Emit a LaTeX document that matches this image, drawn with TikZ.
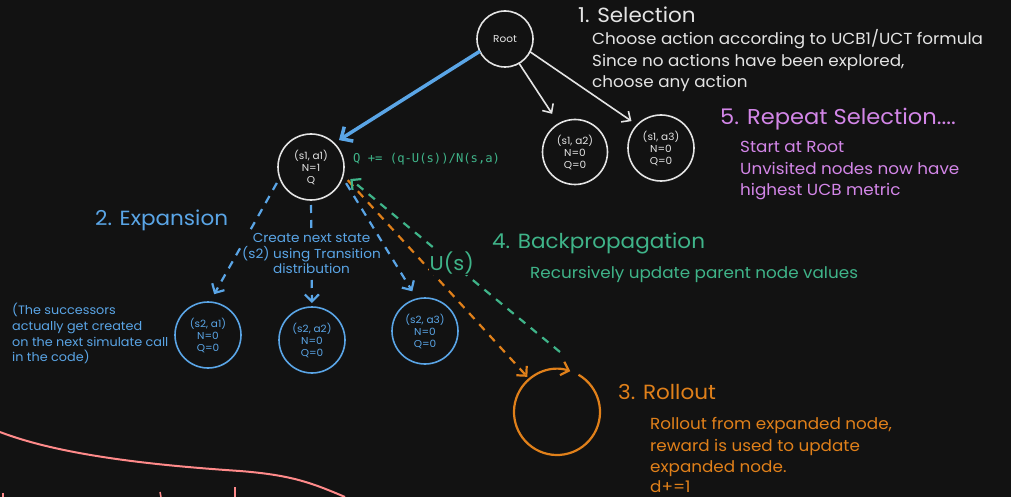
\documentclass[tikz,border=0pt]{standalone}
\usepackage{fontspec}
\setmainfont{Poppins}
\newfontfamily\hand[FakeStretch=1.05]{Poppins}
\newfontfamily\mono{DejaVu Sans Mono}
\usetikzlibrary{arrows.meta}
\definecolor{bg}{HTML}{121212}
\definecolor{wht}{HTML}{E4E4E4}
\definecolor{blu}{HTML}{5AA5E6}
\definecolor{orng}{HTML}{E0801A}
\definecolor{grn}{HTML}{3FB489}
\definecolor{prp}{HTML}{D386E8}
\definecolor{pnk}{HTML}{FF8A8A}
\tikzset{
  state/.style={circle, draw, line width=1.6pt, minimum size=66pt, inner sep=0pt, outer sep=0pt, align=center,
    font=\hand\fontsize{10}{12}\selectfont},
  title/.style={anchor=base west, inner sep=0pt, font=\hand\fontsize{20.5}{24}\selectfont},
  body/.style={anchor=base west, inner sep=0pt, font=\hand\fontsize{16}{21}\selectfont},
  note/.style={anchor=base west, inner sep=0pt, font=\hand\fontsize{12.2}{16}\selectfont},
  wtip/.style={-{Straight Barb[length=7pt,width=13pt]}},
  dtip/.style={-{Straight Barb[length=7pt,width=14pt]}},
  dash line/.style={line width=2.2pt, dash pattern=on 8pt off 7pt},
}
\begin{document}
\begin{tikzpicture}[x=1pt,y=1pt]
\fill[bg] (0,0) rectangle (1011,-497);
\useasboundingbox (0,0) rectangle (1011,-497);

% tree nodes
\node[state, draw=wht, text=wht, minimum size=56pt] (root) at (505,-39) {Root};
\node[state, draw=wht, text=wht] (s11) at (311,-167) {(s1, a1)\\N=1\\Q};
\node[state, draw=wht, text=wht, minimum size=65pt] (s12) at (575,-152) {(s1, a2)\\N=0\\Q=0};
\node[state, draw=wht, text=wht] (s13) at (661,-148) {(s1, a3)\\N=0\\Q=0};
\node[state, draw=blu, text=blu] (s21) at (208,-335) {(s2, a1)\\N=0\\Q=0};
\node[state, draw=blu, text=blu] (s22) at (312,-340) {(s2, a2)\\N=0\\Q=0};
\node[state, draw=blu, text=blu] (s23) at (425,-331) {(s2, a3)\\N=0\\Q=0};
\node[circle, minimum size=86pt, inner sep=0pt, outer sep=0pt] (roll) at (557,-412) {};
\coordinate (gstart) at (560,-352);

% selection arrows
\draw[blu, line width=3.5pt, -{Straight Barb[length=9pt,width=17pt]}, shorten >=6pt] (root.206) -- (s11.46);
\draw[wht, line width=1.6pt, wtip, shorten >=12pt] (root.-60) -- (s12.120);
\draw[wht, line width=1.6pt, wtip, shorten >=7pt] (root.-27) -- (s13.136);

% expansion arrows
\draw[blu, dash line, dtip, shorten <=6pt, shorten >=9pt] (s11.199) -- (s21.87);
\draw[blu, dash line, dtip, shorten <=5pt, shorten >=4pt] (s11.-90) -- node[midway, fill=bg, inner sep=0.5pt, align=center, text=blu,
   font=\hand\fontsize{13}{15.5}\selectfont] (lab) {Create next state\\(s2) using Transition\\distribution} (s22.90);
\draw[blu, dash line, dtip, shorten <=7pt, shorten >=9pt] (s11.-18) -- (s23.104);

% rollout
\draw[orng, dash line, dtip, shorten <=7pt, shorten >=3pt] (s11.-14) -- (roll.130);
\draw[orng, line width=2.2pt, -{Straight Barb[length=7pt,width=14pt]}] (roll.60) arc[start angle=60, end angle=-288, radius=43pt];

% backpropagation
\draw[grn, dash line, dtip, shorten >=9pt] (gstart) -- node[midway, fill=bg, inner sep=1pt, text=grn,
   font=\hand\fontsize{20}{24}\selectfont] (us) {U(s)} (s11.-11);

% texts
\node[title, text=wht] (t1) at (578,-23) {1. Selection};
\node[body, text=wht] (t1a) at (592,-45) {Choose action according to UCB1/UCT formula};
\node[body, text=wht] (t1b) at (592,-67) {Since no actions have been explored,};
\node[body, text=wht] (t1c) at (592,-88) {choose any action};
\node[title, text=prp, font=\hand\fontsize{21.5}{24}\selectfont] (t5) at (720,-125) {5. Repeat Selection....};
\node[body, text=prp] (t5a) at (740,-153) {Start at Root};
\node[body, text=prp] (t5b) at (740,-175) {Unvisited nodes now have};
\node[body, text=prp] (t5c) at (740,-196) {highest UCB metric};
\node[title, text=grn] (t4) at (492,-248) {4. Backpropagation};
\node[body, text=grn] (t4a) at (530,-278) {Recursively update parent node values};
\node[title, text=orng] (t3) at (618,-399) {3. Rollout};
\node[body, text=orng] (t3a) at (650,-429) {Rollout from expanded node,};
\node[body, text=orng] (t3b) at (650,-451) {reward is used to update};
\node[body, text=orng] (t3c) at (650,-472) {expanded node.};
\node[body, text=orng] (t3d) at (650,-492) {d+=1};
\node[title, text=blu] (t2) at (95,-225) {2. Expansion};
\node[note, text=blu] (tn1) at (12,-314) {(The successors};
\node[note, text=blu] (tn2) at (12,-330) {actually get created};
\node[note, text=blu] (tn3) at (12,-346) {on the next simulate call};
\node[note, text=blu] (tn4) at (12,-361) {in the code)};
\node[anchor=base west, inner sep=0pt, text=grn, font=\mono\fontsize{12.2}{14}\selectfont] (form) at (353,-163) {Q += (q-U(s))/N(s,a)};

% pink stroke at bottom left
\draw[pnk, line width=2pt] (0,-432) .. controls (60,-455) and (150,-465) .. (240,-471) .. controls (290,-475) and (310,-482) .. (345,-497);
\draw[pnk, line width=1.5pt] (235,-487) -- (235,-497);
\draw[pnk, line width=1.5pt] (160,-492) -- (161,-497);
\draw[pnk, line width=1.5pt] (3,-493) -- (3,-497);
\end{tikzpicture}
\end{document}
